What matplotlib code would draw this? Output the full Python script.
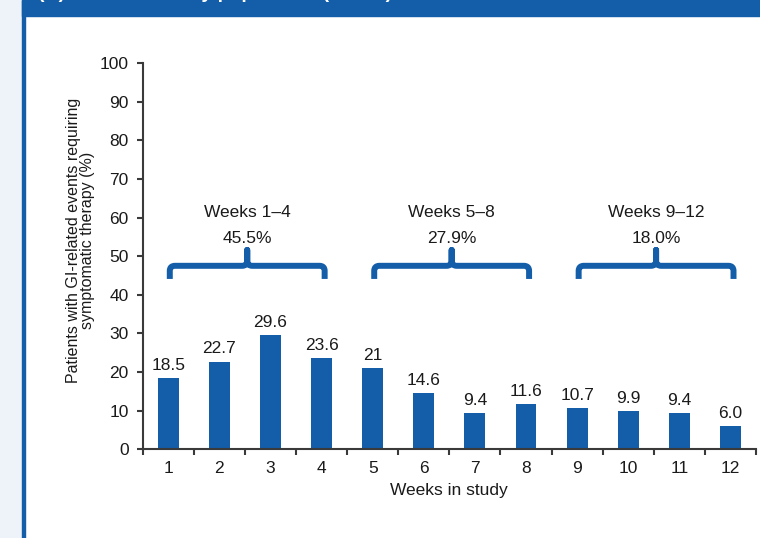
import numpy as np
import matplotlib
matplotlib.use("Agg")
import matplotlib.pyplot as plt
from matplotlib.path import Path
from matplotlib.patches import PathPatch, Rectangle

weeks = list(range(1, 13))
pct = [18.5, 22.7, 29.6, 23.6, 21, 14.6, 9.4, 11.6, 10.7, 9.9, 9.4, 6.0]
pct_labels = ["18.5", "22.7", "29.6", "23.6", "21", "14.6", "9.4", "11.6",
              "10.7", "9.9", "9.4", "6.0"]
groups = [(1, 4), (5, 8), (9, 12)]
group_names = ["Weeks 1\u20134", "Weeks 5\u20138", "Weeks 9\u201312"]
group_pct = ["45.5%", "27.9%", "18.0%"]
y_ticks = list(range(0, 101, 10))

BLUE = "#145da9"
AXC = "#3a3a3a"
W, H = 760, 538

plt.rcParams["font.family"] = ["Liberation Sans", "DejaVu Sans"]
plt.rcParams["font.size"] = 12.5

fig = plt.figure(figsize=(W / 100, H / 100), dpi=100)

# page decoration: light strip, blue rule, header banner (title mostly cut off)
fig.patches.append(Rectangle((0, 0), 21.7 / W, 1, transform=fig.transFigure,
                             color="#eef2f9", zorder=0))
fig.patches.append(Rectangle((21.7 / W, 0), 3.3 / W, 1, transform=fig.transFigure,
                             color=BLUE, zorder=0))
fig.patches.append(Rectangle((21.7 / W, 1 - 15.7 / H), 1, 15.7 / H,
                             transform=fig.transFigure, color=BLUE, zorder=0))
fig.text(38 / W, 1 + 1.5 / H, "(A) Modified safety population (mSAF)",
         color="white", fontsize=14, fontweight="bold", va="baseline", ha="left")

x0, y0 = 142.7, 449.3
x1, y1 = 756.0, 63.0
ax = fig.add_axes([x0 / W, 1 - y0 / H, (x1 - x0) / W, (y0 - y1) / H])

ax.bar(weeks, pct, width=0.41, color=BLUE, zorder=2)
for x, v, s in zip(weeks, pct, pct_labels):
    ax.annotate(s, (x, v), xytext=(0, 6), textcoords="offset points",
                ha="center", va="baseline", fontsize=12.5, color="#1a1a1a")


def brace(ax, a, b, y_bar=47.5, y_end=44.1, y_tip=51.6):
    rx, ry = 0.1, 1.3
    m = (a + b) / 2
    verts = [(a, y_end), (a, y_bar - ry), (a, y_bar), (a + rx, y_bar),
             (m - rx, y_bar), (m, y_bar), (m, y_bar + ry), (m, y_tip),
             (m, y_bar + ry), (m, y_bar), (m + rx, y_bar),
             (b - rx, y_bar), (b, y_bar), (b, y_bar - ry), (b, y_end)]
    codes = [Path.MOVETO, Path.LINETO, Path.CURVE3, Path.CURVE3,
             Path.LINETO, Path.CURVE3, Path.CURVE3, Path.LINETO,
             Path.LINETO, Path.CURVE3, Path.CURVE3,
             Path.LINETO, Path.CURVE3, Path.CURVE3, Path.LINETO]
    ax.add_patch(PathPatch(Path(verts, codes), fill=False, edgecolor=BLUE,
                           linewidth=4.3, capstyle="butt", joinstyle="round",
                           zorder=3))


for (g0, g1), name, p in zip(groups, group_names, group_pct):
    a, b = g0 + 0.03, g1 + 0.06
    brace(ax, a, b)
    ax.text((a + b) / 2, 61.2, name, ha="center", va="center", color="#1a1a1a")
    ax.text((a + b) / 2, 54.6, p, ha="center", va="center", color="#1a1a1a")

ax.set_xlim(0.5, 12.5)
ax.set_ylim(0, 100)
ax.set_yticks(y_ticks)
ax.set_xticks(np.arange(0.5, 13, 1))
ax.set_xticklabels([])
ax.set_xticks(weeks, minor=True)
ax.set_xticklabels([str(w) for w in weeks], minor=True)
ax.tick_params(axis="x", which="major", length=4, width=1.5, color=AXC, direction="out")
ax.tick_params(axis="x", which="minor", length=0, pad=8.5, labelsize=12.5,
               labelcolor="#1a1a1a")
ax.tick_params(axis="y", length=4, width=1.5, color=AXC, pad=6, labelsize=12.5,
               labelcolor="#1a1a1a")
for side in ["top", "right"]:
    ax.spines[side].set_visible(False)
for side in ["left", "bottom"]:
    ax.spines[side].set_color(AXC)
    ax.spines[side].set_linewidth(1.5)

fig.text(80.5 / W, 1 - 240 / H,
         "Patients with GI-related events requiring\nsymptomatic therapy (%)",
         rotation=90, ha="center", va="center", fontsize=11.5, linespacing=0.95,
         color="#1a1a1a", multialignment="center")
fig.text((x0 + x1) / 2 / W, 1 - 490 / H, "Weeks in study", ha="center",
         va="center", fontsize=12.5, color="#1a1a1a")

fig.savefig("out.png", dpi=100)
